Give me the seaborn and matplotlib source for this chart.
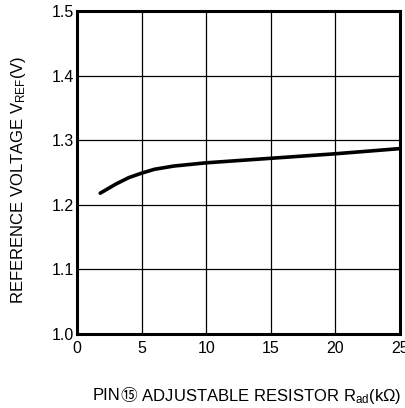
import matplotlib
matplotlib.use("Agg")
import matplotlib.pyplot as plt
import seaborn as sns
import pandas as pd
from matplotlib.offsetbox import TextArea, HPacker, AnchoredOffsetbox

# Data
r_ad_kohm = [1.8, 3.0, 4.0, 5.0, 6.0, 7.5, 10.0, 15.0, 20.0, 25.0]
v_ref = [1.218, 1.232, 1.242, 1.249, 1.255, 1.260, 1.265, 1.272, 1.279, 1.287]
x_ticks = [0, 5, 10, 15, 20, 25]
y_ticks = [1.0, 1.1, 1.2, 1.3, 1.4, 1.5]
y_tick_labels = ["1.0", "1.1", "1.2", "1.3", "1.4", "1.5"]

sns.set_theme(style="white")
plt.rcParams['font.family'] = ['Liberation Sans', 'DejaVu Sans', 'Noto Sans CJK JP']
plt.rcParams['mathtext.fontset'] = 'custom'
plt.rcParams['mathtext.rm'] = 'Liberation Sans'
plt.rcParams['mathtext.it'] = 'Liberation Sans'

df = pd.DataFrame({"R": r_ad_kohm, "V": v_ref})

fig = plt.figure(figsize=(4.06, 4.08), dpi=100)
ax = fig.add_axes([77/406, 1 - 334/408, 323/406, 323/408])

sns.lineplot(data=df, x="R", y="V", ax=ax, color="black", linewidth=2.6)

ax.set_xlim(0, 25)
ax.set_ylim(1.0, 1.5)
ax.set_xticks(x_ticks)
ax.set_yticks(y_ticks)
ax.set_yticklabels(y_tick_labels)
ax.grid(True, color="black", linewidth=0.9)
for s in ax.spines.values():
    s.set_visible(True)
    s.set_color("black")
    s.set_linewidth(2.2)
ax.tick_params(axis="both", length=0, labelsize=11.5, colors="black")
ax.tick_params(axis="x", pad=5)
ax.tick_params(axis="y", pad=2)

ax.set_xlabel("")
ax.set_ylabel("")
fs = 12
fig.text(19/406, 1 - 180/408, r"REFERENCE VOLTAGE V$_{\mathrm{REF}}$(V)", rotation=90,
         ha="center", va="center", fontsize=fs, color="black")

p1 = TextArea("PIN", textprops=dict(fontsize=fs, color="black", family="Liberation Sans"))
p2 = TextArea("⑮", textprops=dict(fontsize=fs, color="black", family="Noto Sans CJK JP"))
p3 = TextArea(r" ADJUSTABLE RESISTOR R$_{\mathrm{ad}}$(kΩ)",
              textprops=dict(fontsize=fs, color="black", family="Liberation Sans"))
hp = HPacker(children=[p1, p2, p3], align="baseline", pad=0, sep=0)
box = AnchoredOffsetbox(loc="center", child=hp, bbox_to_anchor=(247/406, 1 - 396/408),
                        bbox_transform=fig.transFigure, frameon=False, pad=0, borderpad=0)
fig.add_artist(box)

fig.savefig("out.png", dpi=100, facecolor="white")
